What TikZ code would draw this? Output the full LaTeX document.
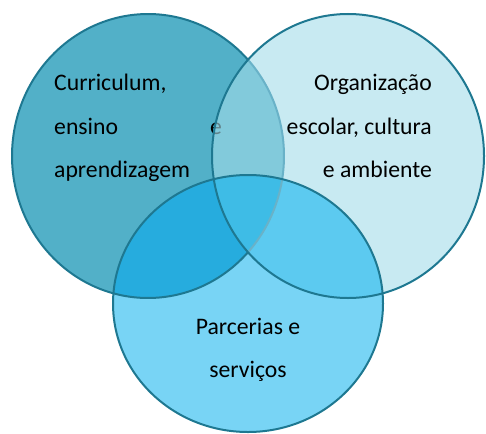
\documentclass[tikz,border=0pt]{standalone}
\usepackage{fontspec}
\setmainfont{Carlito}
\definecolor{cleft}{RGB}{82,176,200}
\definecolor{cright}{RGB}{163,220,233}
\definecolor{cbottom}{RGB}{120,212,245}
\definecolor{clb}{RGB}{38,172,222}
\definecolor{crb}{RGB}{92,202,240}
\definecolor{clrb}{RGB}{62,188,230}
\definecolor{cline}{RGB}{30,120,145}
\definecolor{cfaint}{RGB}{105,178,200}
\tikzset{
  vtext/.style={font=\fontsize{23.7}{28}\selectfont, inner sep=0pt, text=black},
  outline/.style={draw=cline, line width=2pt},
}
\newcommand{\leftshape}{(148,156) ellipse [x radius=136, y radius=142]}
\newcommand{\rightshape}{(348,156) ellipse [x radius=136, y radius=142]}
\newcommand{\bottomshape}{(248,303.5) ellipse [x radius=135, y radius=128.5]}
\begin{document}
\begin{tikzpicture}[x=1pt, y=-1pt]
\useasboundingbox (0,0) rectangle (486,433);
\coordinate (lc) at (148,156);
% left circle
\fill[cleft] \leftshape;
\node[vtext, anchor=base west] (l1) at (54,90) {Curriculum,};
\node[vtext, anchor=base west] (l2) at (54,134) {ensino};
\node[vtext, anchor=base west] (l2e) at (210,134) {e};
\node[vtext, anchor=base west] (l3) at (54,177) {aprendizagem};
% right circle
\fill[cright, fill opacity=0.6] \rightshape;
\node[vtext, anchor=base east] (r1) at (432,90) {Organização};
\node[vtext, anchor=base east] (r2) at (432,134) {escolar, cultura};
\node[vtext, anchor=base east] (r3) at (432,177) {e ambiente};
% bottom circle
\fill[cbottom] \bottomshape;
\begin{scope}
  \clip \bottomshape;
  \fill[clb] \leftshape;
  \fill[crb] \rightshape;
  \clip \leftshape;
  \fill[clrb] \rightshape;
\end{scope}
\node[vtext, anchor=base] (b1) at (248,334) {Parcerias e};
\node[vtext, anchor=base] (b2) at (248,377) {serviços};
% outlines
\draw[draw=cfaint, line width=2pt] (lc) ++(-42.7:136 and 142) arc[start angle=-42.7, end angle=42.7, x radius=136, y radius=142];
\draw[outline] (lc) ++(42.7:136 and 142) arc[start angle=42.7, end angle=317.3, x radius=136, y radius=142];
\draw[outline] \rightshape;
\draw[outline] \bottomshape;
\end{tikzpicture}
\end{document}
